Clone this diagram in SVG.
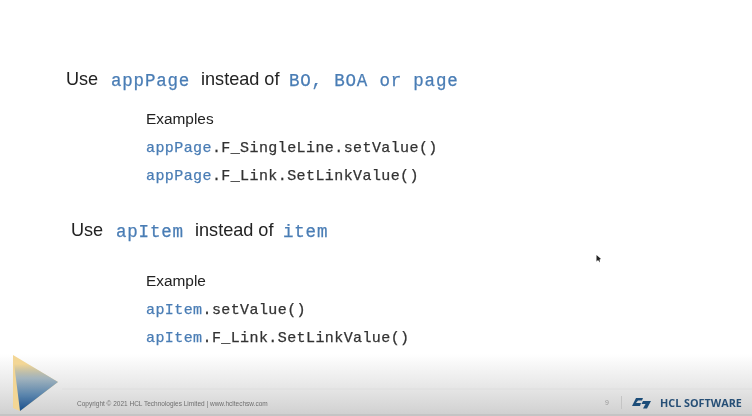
<svg xmlns="http://www.w3.org/2000/svg" width="752" height="416" viewBox="0 0 752 416">
<style>
.s{font-family:"Liberation Sans",Arial,sans-serif;fill:#222}
.m{font-family:"Liberation Mono","Courier New",monospace;fill:#333;stroke:#333;stroke-width:.25}
.b{fill:#4a7db5;stroke:#4a7db5;stroke-width:.25}
.h{font-size:18.100px}.hm{font-size:17.500px;letter-spacing:.8px}.t{font-size:15.400px}.tm{font-size:15px;letter-spacing:.41px}
</style>
<defs>
<linearGradient id="foot" x1="0" y1="0" x2="0" y2="1"><stop offset="0" stop-color="#fff"/><stop offset=".55" stop-color="#e6e6e6"/><stop offset="1" stop-color="#cfcfcf"/></linearGradient>
<linearGradient id="tri" gradientUnits="userSpaceOnUse" x1="0" y1="364" x2="0" y2="411"><stop offset="0" stop-color="#8fa6b4" stop-opacity="0"/><stop offset=".3" stop-color="#a3b4bd"/><stop offset=".65" stop-color="#5c86ad"/><stop offset="1" stop-color="#1a4f8c"/></linearGradient>
<filter id="blur" x="-10%" y="-10%" width="120%" height="120%"><feGaussianBlur stdDeviation=".35"/></filter>
</defs>
<rect width="752" height="416" fill="#fff"/>
<rect y="354" width="752" height="62" fill="url(#foot)"/>
<rect y="414" width="752" height="2" fill="#c4c4c4"/>
<line x1="62" y1="389" x2="752" y2="389" stroke="#dedede"/>
<g filter="url(#blur)">
<text class="s h" x="66" y="85">Use</text>
<text class="m hm b" x="111" y="86">appPage</text>
<text class="s h" x="201" y="85">instead of</text>
<text class="m hm b" x="289" y="86">BO, BOA or page</text>
<text class="s t" x="146" y="124">Examples</text>
<text class="m tm" x="146" y="152"><tspan class="b">appPage</tspan>.F_SingleLine.setValue()</text>
<text class="m tm" x="146" y="180"><tspan class="b">appPage</tspan>.F_Link.SetLinkValue()</text>
<text class="s h" x="71" y="236">Use</text>
<text class="m hm b" x="116" y="237">apItem</text>
<text class="s h" x="195" y="236">instead of</text>
<text class="m hm b" x="283" y="237">item</text>
<text class="s t" x="146" y="286">Example</text>
<text class="m tm" x="146" y="314"><tspan class="b">apItem</tspan>.setValue()</text>
<text class="m tm" x="146" y="342"><tspan class="b">apItem</tspan>.F_Link.SetLinkValue()</text>
<path d="M596.500 255l0 6.500 1.500-1.500 2 2.500-.5-3 1.500-.5z" fill="#222"/>
<path d="M13 355L58 382L20 411L13 408z" fill="#f3d695"/>
<path d="M13 355L58 382L20 411z" fill="url(#tri)"/>
<text x="77" y="406" font-family="'Liberation Sans',Arial,sans-serif" font-size="6.500" fill="#6e6e6e">Copyright © 2021 HCL Technologies Limited  |  www.hcltechsw.com</text>
<text x="605" y="405" font-family="'Liberation Sans',Arial,sans-serif" font-size="7" fill="#999">9</text>
<line x1="621.500" y1="396" x2="621.500" y2="409" stroke="#c4c4c4"/>
<path d="M636 398h7l-1 2.500h-4l-2 2.500h5l-1 3h-8zM643 401h8l-4 7.500h-4l2.500-4.500h-4z" fill="#1f4e79"/>
<text x="660" y="407" font-family="'Open Sans','Liberation Sans',sans-serif" font-size="10.800" font-weight="700" fill="#274f76">HCL SOFTWARE</text>
</g>
</svg>
